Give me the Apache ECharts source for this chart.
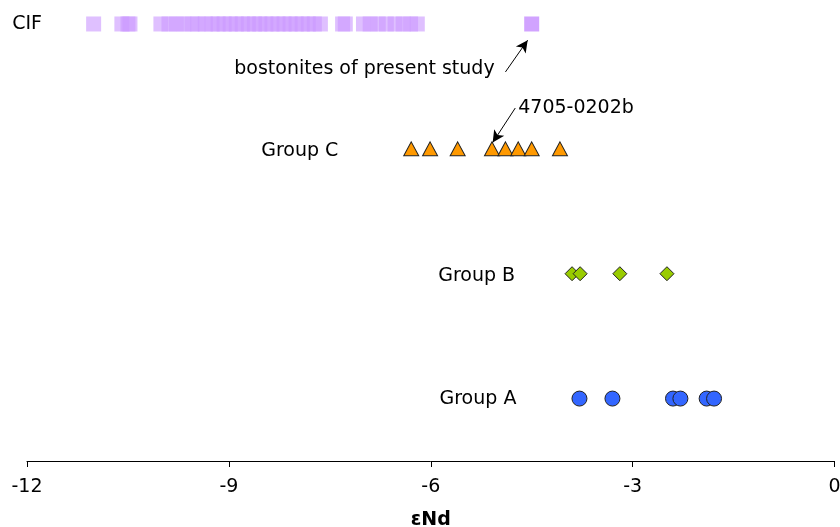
<!DOCTYPE html>
<html>
<head>
<meta charset="utf-8">
<script src="https://cdn.jsdelivr.net/npm/echarts@6/dist/echarts.min.js"></script>
<style>
  html, body { margin: 0; padding: 0; background: #fff; }
  #chart { width: 840px; height: 527px; }
</style>
</head>
<body>
<div id="chart"></div>
<script>
// εNd values by group
const cifValues = [
  -11.01, -10.59, -10.50, -10.47,
  -10.01, -9.89, -9.78, -9.67, -9.55, -9.46, -9.35, -9.25, -9.16, -9.07,
  -8.98, -8.89, -8.80, -8.71, -8.62, -8.54, -8.45, -8.36, -8.27, -8.18,
  -8.09, -8.00, -7.91, -7.82, -7.73, -7.64,
  -7.31, -7.27,
  -7.00, -6.90, -6.78, -6.66, -6.53, -6.41, -6.30, -6.20
];
const bostoniteValues = [-4.50];
const groupCValues = [-6.29, -6.01, -5.60, -5.09, -4.89, -4.70, -4.50, -4.08];
const groupBValues = [-3.90, -3.78, -3.19, -2.49];
const groupAValues = [-3.79, -3.30, -2.40, -2.29, -1.90, -1.79];

// row positions on the hidden vertical axis
const rowLevels = { A: 1, B: 2, C: 3, CIF: 4 };
const xTicks = [-12, -9, -6, -3, 0];

const FONT = 'DejaVu Sans';

function row(values, level) {
  return values.map(v => [v, level]);
}

const chart = echarts.init(document.getElementById('chart'), null, { renderer: 'canvas' });

const option = {
  animation: false,
  backgroundColor: '#ffffff',
  grid: { left: 27, right: 5.5, top: 11.5, bottom: 66, containLabel: false, outerBoundsMode: 'none' },
  xAxis: {
    type: 'value',
    min: xTicks[0],
    max: xTicks[xTicks.length - 1],
    interval: 3,
    name: 'εNd',
    nameLocation: 'middle',
    nameGap: 50,
    nameTextStyle: { fontFamily: FONT, fontSize: 19, fontWeight: 'bold', color: '#000' },
    axisLine: { onZero: false, lineStyle: { color: '#000', width: 1 } },
    axisTick: { inside: false, length: 6, lineStyle: { color: '#000' } },
    axisLabel: { fontFamily: FONT, fontSize: 19, color: '#000', margin: 17 },
    splitLine: { show: false }
  },
  yAxis: {
    type: 'value',
    min: 0.5,
    max: 4.1,
    show: false
  },
  series: [
    {
      name: 'CIF',
      type: 'scatter',
      symbol: 'rect',
      symbolSize: [15, 15],
      itemStyle: { color: '#CC99FF', opacity: 0.62 },
      data: row(cifValues, rowLevels.CIF)
    },
    {
      name: 'bostonites',
      type: 'scatter',
      symbol: 'rect',
      symbolSize: [15, 15],
      itemStyle: { color: '#CC99FF', opacity: 0.9 },
      data: row(bostoniteValues, rowLevels.CIF),
      markLine: {
        silent: true,
        symbol: ['none', 'arrow'],
        symbolSize: [9, 12],
        label: { show: false },
        lineStyle: { color: '#000', width: 1, type: 'solid' },
        data: [
          [{ coord: [-4.89, 3.616] }, { coord: [-4.56, 3.87] }],
          [{ coord: [-4.744, 3.327] }, { coord: [-5.08, 3.05] }]
        ]
      }
    },
    {
      name: 'Group C',
      type: 'scatter',
      symbol: 'triangle',
      symbolSize: [15, 14],
      itemStyle: { color: '#FF9900', borderColor: '#222', borderWidth: 1, opacity: 1 },
      data: row(groupCValues, rowLevels.C)
    },
    {
      name: 'Group B',
      type: 'scatter',
      symbol: 'diamond',
      symbolSize: [14, 14],
      itemStyle: { color: '#99CC00', borderColor: '#222', borderWidth: 1, opacity: 1 },
      data: row(groupBValues, rowLevels.B)
    },
    {
      name: 'Group A',
      type: 'scatter',
      symbol: 'circle',
      symbolSize: 15,
      itemStyle: { color: '#3366FF', borderColor: '#222', borderWidth: 1, opacity: 1 },
      data: row(groupAValues, rowLevels.A)
    }
  ]
};

chart.setOption(option);

// row labels and annotation text, placed from axis coordinates
function textAt(text, xVal, yVal, align) {
  const p = chart.convertToPixel({ gridIndex: 0 }, [xVal, yVal]);
  return {
    type: 'text',
    x: p[0],
    y: p[1],
    style: {
      text: text,
      fontFamily: FONT,
      fontSize: 19,
      fill: '#000',
      align: align || 'left',
      verticalAlign: 'middle'
    }
  };
}

chart.setOption({
  graphic: [
    textAt('CIF', -12.22, rowLevels.CIF, 'left'),
    textAt('Group C', -8.52, rowLevels.C - 0.015, 'left'),
    textAt('Group B', -5.89, rowLevels.B - 0.015, 'left'),
    textAt('Group A', -5.87, rowLevels.A, 'left'),
    textAt('bostonites of present study', -8.92, 3.64, 'left'),
    textAt('4705-0202b', -4.70, 3.33, 'left')
  ]
});
</script>
</body>
</html>
